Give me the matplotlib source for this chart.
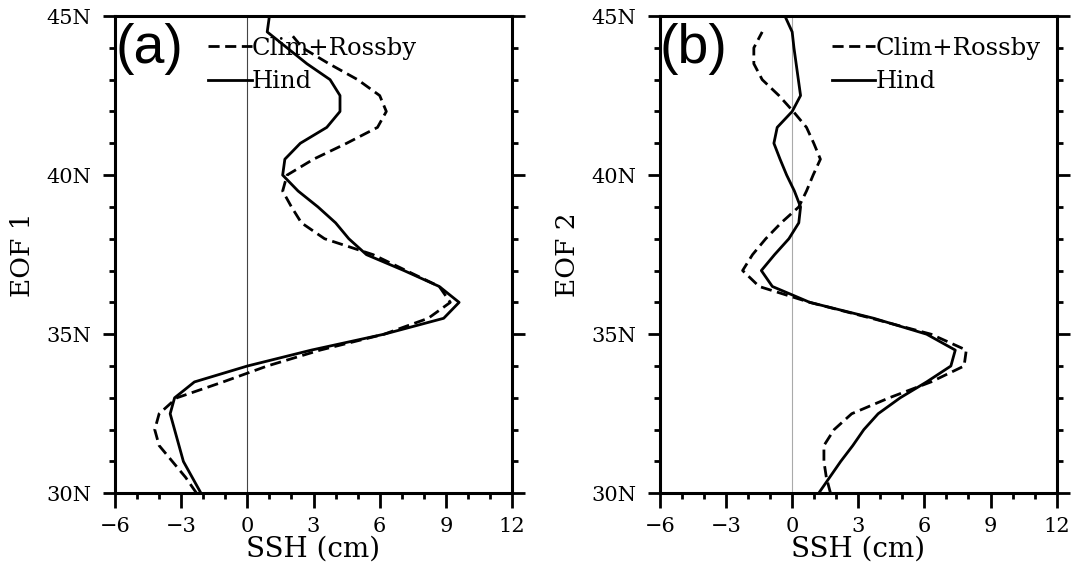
import matplotlib
matplotlib.use("Agg")
import matplotlib.pyplot as plt
import numpy as np

# latitude grid (deg N), 0.5 deg steps from 30N to 45N
lat = np.arange(30.0, 45.01, 0.5)

# EOF 1 (panel a), SSH in cm
eof1_hind = [-2.1, -2.5, -2.9, -3.1, -3.3, -3.5, -3.3, -2.4, 0.0, 2.9,
             6.2, 8.9, 9.6, 8.7, 7.1, 5.4, 4.6, 4.0, 3.2, 2.3,
             1.6, 1.7, 2.4, 3.6, 4.2, 4.2, 3.75, 2.7, 1.8, 0.9, 1.0]
eof1_clim = [-2.3, -2.8, -3.4, -4.0, -4.2, -4.0, -3.2, -1.1, 0.9, 3.3,
             6.2, 8.2, 9.2, 8.7, 7.2, 5.7, 3.5, 2.45, 2.0, 1.6,
             1.8, 3.0, 4.5, 5.9, 6.3, 6.0, 5.0, 3.7, 2.5, 1.9, np.nan]

# EOF 2 (panel b)
eof2_hind = [1.2, 1.7, 2.2, 2.75, 3.25, 3.9, 4.9, 6.1, 7.2, 7.4,
             6.1, 3.7, 0.8, -0.9, -1.4, -0.8, -0.15, 0.3, 0.38, 0.1,
             -0.25, -0.55, -0.83, -0.68, 0.0, 0.38, 0.28, 0.18, 0.08, 0.0, -0.33]
eof2_clim = [1.74, 1.55, 1.44, 1.44, 1.9, 2.7, 4.4, 6.3, 7.8, 7.9,
             6.3, 3.6, 0.8, -1.5, -2.25, -1.8, -1.2, -0.5, 0.3, 0.65,
             0.95, 1.28, 0.98, 0.65, 0.05, -0.6, -1.36, -1.74, -1.74, -1.36, np.nan]

xticks = [-6, -3, 0, 3, 6, 9, 12]
yticks = [30, 35, 40, 45]
ylabels = ["30N", "35N", "40N", "45N"]

serif = "DejaVu Serif"

fig = plt.figure(figsize=(10.71, 5.76), dpi=100)
axa = fig.add_axes([0.1074, 0.1436, 0.3707, 0.8286])
axb = fig.add_axes([0.6162, 0.1436, 0.3704, 0.8286])

panels = [
    (axa, eof1_clim, eof1_hind, "(a)", "EOF 1", "#444444"),
    (axb, eof2_clim, eof2_hind, "(b)", "EOF 2", "#aaaaaa"),
]
legend_x = [0.234, 0.433]

for i, (ax, clim, hind, tag, ylab, zc) in enumerate(panels):
    ax.axvline(0, color=zc, lw=0.8, zorder=1)
    ax.plot(clim, lat, color="black", lw=2.0, ls=(0, (4, 2)), label="Clim+Rossby")
    ax.plot(hind, lat, color="black", lw=2.0, label="Hind")

    ax.set_xlim(-6, 12)
    ax.set_ylim(30, 45)
    ax.set_xticks(xticks)
    ax.set_xticklabels([str(v).replace("-", "\u2212") for v in xticks],
                       family=serif, fontsize=15)
    ax.set_xticks(np.arange(-6, 12.1, 1), minor=True)
    ax.set_yticks(yticks)
    ax.set_yticklabels(ylabels, family=serif, fontsize=15)
    ax.set_yticks(np.arange(30, 45.1, 1), minor=True)

    ax.tick_params(which="both", direction="out", width=2, top=False,
                   right=True, labelright=False)
    ax.tick_params(axis="x", which="major", length=11, pad=6)
    ax.tick_params(axis="y", which="major", length=9, pad=8)
    ax.tick_params(which="minor", length=4)

    for s in ax.spines.values():
        s.set_linewidth(2.2)

    ax.set_xlabel("SSH (cm)", family=serif, fontsize=20, labelpad=0)
    ax.set_ylabel(ylab, family=serif, fontsize=19, labelpad=8)

    ax.text(0.0, 0.985, tag, transform=ax.transAxes, family="Liberation Sans",
            fontsize=40, va="top", ha="left")

    leg = ax.legend(loc="upper left", bbox_to_anchor=(legend_x[i], 0.957),
                    frameon=False, prop={"family": serif, "size": 17.5},
                    handlelength=1.8, handletextpad=0.0, labelspacing=0.45,
                    borderaxespad=0, borderpad=0)

fig.savefig("out.png", dpi=100)
